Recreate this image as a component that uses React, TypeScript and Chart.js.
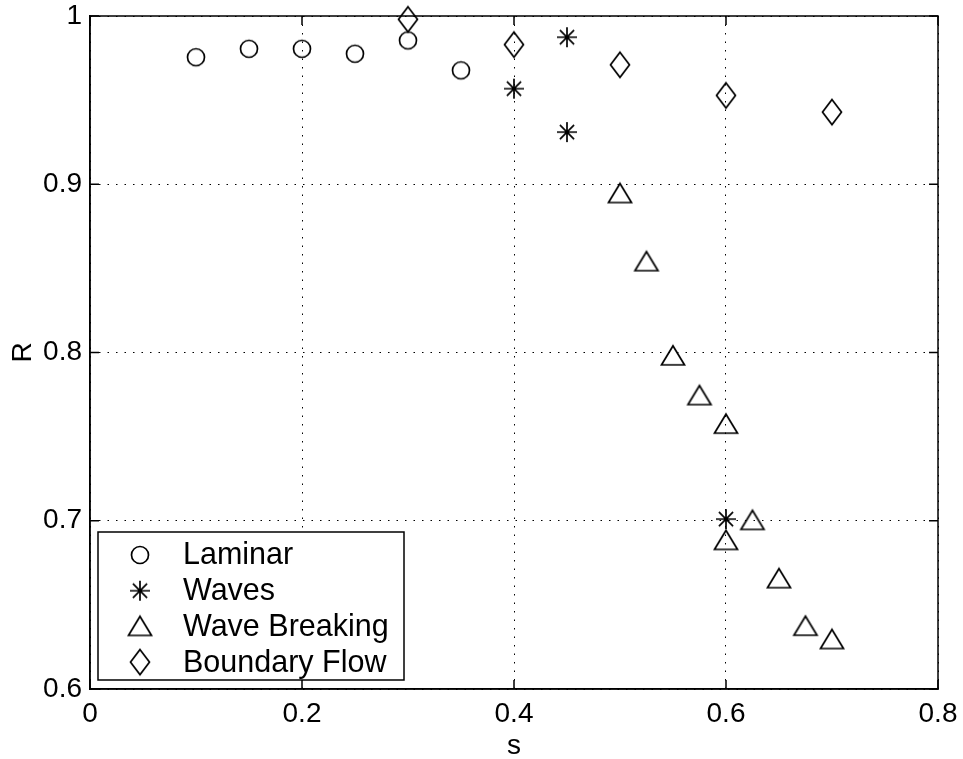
import React, { useEffect, useRef } from 'react';
import { Chart, registerables } from 'chart.js';

Chart.register(...registerables);

// ---- data ----
const laminarS = [0.1, 0.15, 0.2, 0.25, 0.3, 0.35];
const laminarR = [0.9755, 0.9805, 0.9805, 0.9776, 0.9855, 0.9677];
const wavesS = [0.45, 0.4, 0.45, 0.6];
const wavesR = [0.9874, 0.9568, 0.931, 0.701];
const breakingS = [0.5, 0.525, 0.55, 0.575, 0.6, 0.625, 0.6, 0.65, 0.675, 0.7];
const breakingR = [0.8945, 0.854, 0.798, 0.7744, 0.7574, 0.7002, 0.6883, 0.6656, 0.6373, 0.6294];
const boundaryS = [0.3, 0.4, 0.5, 0.6, 0.7];
const boundaryR = [0.998, 0.983, 0.971, 0.9528, 0.9429];
const seriesLabels = ['Laminar', 'Waves', 'Wave Breaking', 'Boundary Flow'];
const xTickLabels = ['0', '0.2', '0.4', '0.6', '0.8'];
const yTickLabels = ['0.6', '0.7', '0.8', '0.9', '1'];
const xTitle = 's';
const yTitle = 'R';

const FONT = "'Liberation Sans', Arial, Helvetica, sans-serif";

function makeMarker(kind: string): HTMLCanvasElement {
  const c = document.createElement('canvas');
  const w = 28, h = 30;
  c.width = w; c.height = h;
  const ctx = c.getContext('2d')!;
  ctx.strokeStyle = '#000';
  ctx.lineWidth = 1.7;
  ctx.lineJoin = 'miter';
  const cx = w / 2, cy = h / 2;
  ctx.beginPath();
  if (kind === 'circle') {
    ctx.arc(cx, cy, 8.5, 0, Math.PI * 2);
  } else if (kind === 'asterisk') {
    const r = 10, d = r * Math.SQRT1_2;
    ctx.moveTo(cx - r, cy); ctx.lineTo(cx + r, cy);
    ctx.moveTo(cx, cy - r); ctx.lineTo(cx, cy + r);
    ctx.moveTo(cx - d, cy - d); ctx.lineTo(cx + d, cy + d);
    ctx.moveTo(cx - d, cy + d); ctx.lineTo(cx + d, cy - d);
  } else if (kind === 'triangle') {
    ctx.moveTo(cx, cy - 10);
    ctx.lineTo(cx + 11.5, cy + 9);
    ctx.lineTo(cx - 11.5, cy + 9);
    ctx.closePath();
  } else {
    ctx.moveTo(cx, cy - 12.5);
    ctx.lineTo(cx + 9.5, cy);
    ctx.lineTo(cx, cy + 12.5);
    ctx.lineTo(cx - 9.5, cy);
    ctx.closePath();
  }
  ctx.stroke();
  return c;
}

const framePlugin = {
  id: 'frame',
  afterDraw(chart: any) {
    const { ctx, chartArea } = chart;
    const { left, right, top, bottom } = chartArea;
    ctx.save();
    ctx.strokeStyle = '#000';
    ctx.lineWidth = 1.5;
    ctx.strokeRect(left, top, right - left, bottom - top);
    const tl = 9;
    ctx.beginPath();
    for (const t of chart.scales.x.ticks) {
      const px = chart.scales.x.getPixelForValue(t.value);
      ctx.moveTo(px, bottom); ctx.lineTo(px, bottom - tl);
      ctx.moveTo(px, top); ctx.lineTo(px, top + tl);
    }
    for (const t of chart.scales.y.ticks) {
      const py = chart.scales.y.getPixelForValue(t.value);
      ctx.moveTo(left, py); ctx.lineTo(left + tl, py);
      ctx.moveTo(right, py); ctx.lineTo(right - tl, py);
    }
    ctx.stroke();

    // legend box
    const bx = left + 8, by = bottom - 157, bw = 306, bh = 148;
    ctx.fillStyle = '#fff';
    ctx.fillRect(bx, by, bw, bh);
    ctx.lineWidth = 1.5;
    ctx.strokeRect(bx, by, bw, bh);
    ctx.fillStyle = '#000';
    ctx.font = `30.5px ${FONT}`;
    ctx.textBaseline = 'middle';
    ctx.textAlign = 'left';
    chart.data.datasets.forEach((ds: any, i: number) => {
      const ry = by + 23 + i * 35.7;
      const img = ds.pointStyle as HTMLCanvasElement;
      ctx.drawImage(img, bx + 42 - img.width / 2, ry - img.height / 2);
      ctx.fillText(ds.label, bx + 85, ry + 1);
    });
    ctx.restore();
  },
};

export default function App() {
  const ref = useRef<HTMLCanvasElement>(null);
  useEffect(() => {
    document.body.style.margin = '0';
    const markers = {
      circle: makeMarker('circle'),
      asterisk: makeMarker('asterisk'),
      triangle: makeMarker('triangle'),
      diamond: makeMarker('diamond'),
    };
    const toPts = (xs: number[], ys: number[]) => xs.map((x, i) => ({ x, y: ys[i] }));
    const mk = (label: string, data: any[], style: HTMLCanvasElement) => ({
      label,
      data,
      pointStyle: style,
      pointRadius: 10,
      pointHoverRadius: 10,
      showLine: false,
      clip: false,
      borderColor: '#000',
      backgroundColor: 'transparent',
    });
    const tickFont = { family: FONT, size: 28 };
    const chart = new Chart(ref.current!, {
      type: 'scatter',
      data: {
        datasets: [
          mk(seriesLabels[0], toPts(laminarS, laminarR), markers.circle),
          mk(seriesLabels[1], toPts(wavesS, wavesR), markers.asterisk),
          mk(seriesLabels[2], toPts(breakingS, breakingR), markers.triangle),
          mk(seriesLabels[3], toPts(boundaryS, boundaryR), markers.diamond),
        ],
      },
      options: {
        responsive: false,
        maintainAspectRatio: false,
        animation: false,
        layout: { padding: { top: 16, right: 25, left: 0, bottom: 0 } },
        plugins: { legend: { display: false }, tooltip: { enabled: false } },
        scales: {
          x: {
            type: 'linear',
            min: 0,
            max: 0.8,
            ticks: {
              stepSize: 0.2,
              autoSkip: false,
              maxRotation: 0,
              color: '#000',
              font: tickFont,
              padding: 8,
              callback: (_v: any, i: number) => xTickLabels[i],
            },
            grid: { color: '#000', lineWidth: 1, drawTicks: false },
            border: { display: true, color: '#000', width: 1.5, dash: [1.5, 7] },
            title: { display: true, text: xTitle, color: '#000', font: { family: FONT, size: 28, lineHeight: 0.9 }, padding: { top: 0, bottom: 0 } },
            afterFit: (s: any) => { s.height = 70; s.paddingLeft = 0; s.paddingRight = 0; },
          },
          y: {
            type: 'linear',
            min: 0.6,
            max: 1,
            ticks: {
              stepSize: 0.1,
              autoSkip: false,
              color: '#000',
              font: { family: FONT, size: 28, lineHeight: 0.5 },
              padding: 8,
              callback: (_v: any, i: number) => yTickLabels[i],
            },
            grid: { color: '#000', lineWidth: 1, drawTicks: false },
            border: { display: true, color: '#000', width: 1.5, dash: [1.5, 7] },
            title: { display: true, text: yTitle, color: '#000', font: tickFont, padding: { top: 6, bottom: 0 } },
            afterFit: (s: any) => { s.width = 90; s.paddingTop = 0; s.paddingBottom = 0; },
          },
        },
      },
      plugins: [framePlugin],
    } as any);
    return () => chart.destroy();
  }, []);
  return (
    <div style={{ width: 963, height: 759, background: '#fff' }}>
      <canvas ref={ref} width={963} height={759} style={{ display: 'block' }} />
    </div>
  );
}
